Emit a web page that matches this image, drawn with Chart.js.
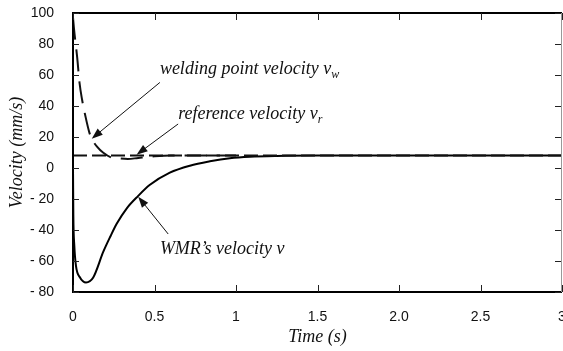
<!DOCTYPE html>
<html>
<head>
<meta charset="utf-8">
<script src="https://cdn.jsdelivr.net/npm/chart.js@4.4.1/dist/chart.umd.min.js"></script>
<style>
  html, body { margin: 0; padding: 0; background: #fff; }
</style>
</head>
<body>
<canvas id="velocityChart" width="563" height="351"></canvas>
<script>
// welding point velocity v_w (dashed)
const weldTime = [0, 0.006, 0.026, 0.04, 0.055, 0.075, 0.1, 0.116, 0.15, 0.184, 0.235, 0.28, 0.337, 0.4, 0.5, 0.6, 0.8, 1.0];
const weldVel  = [97, 90, 71, 55, 44.5, 34, 23, 18.7, 13.5, 10, 6.8, 6.2, 5.8, 6.5, 7.5, 8, 8, 8];

// WMR's velocity v (solid)
const wmrTime = [0, 0.002, 0.008, 0.018, 0.043, 0.08, 0.124, 0.186, 0.23, 0.268, 0.33, 0.4, 0.47, 0.594, 0.717, 0.84, 0.962, 1.085, 1.25, 1.5, 3];
const wmrVel  = [0, -30, -50, -63, -70.6, -73.8, -70.6, -54, -44, -36, -26, -18, -11, -3, 1.5, 4.3, 6.3, 7.3, 7.8, 8, 8];

// reference velocity v_r (dashed)
const refTime = [0, 3];
const refVel  = [8, 8];

const xTickLabels = ['0', '0.5', '1', '1.5', '2.0', '2.5', '3'];

// text notes with arrows, in data units
const notes = [
    {text: 'welding point velocity v', sub: 'w', tx: 0.533, ty: 60.6, from: [0.533, 55.2], to: [0.115, 18.9]},
    {text: 'reference velocity v', sub: 'r', tx: 0.645, ty: 31.6, from: [0.645, 28.4], to: [0.39, 8.6]},
    {text: 'WMR\u2019s velocity v', sub: '', tx: 0.533, ty: -55.5, from: [0.584, -42.6], to: [0.4, -18.5]}
];

const toXY = (xs, ys) => xs.map((x, i) => ({x: x, y: ys[i]}));

const framePlugin = {
    id: 'frame',
    afterDatasetsDraw(chart) {
        const {ctx, chartArea: a, scales} = chart;
        ctx.save();
        ctx.fillStyle = '#000';
        ctx.fillRect(a.left - 1, a.top - 1, 2, a.bottom - a.top + 2);
        ctx.fillRect(a.left - 1, a.bottom - 1, a.right - a.left + 1, 2);
        ctx.fillRect(a.left - 1, a.top - 1, a.right - a.left + 1, 2);
        ctx.fillStyle = '#999';
        ctx.fillRect(a.right - 1, a.top, 1, a.bottom - a.top);

        ctx.strokeStyle = '#222';
        ctx.lineWidth = 1;
        ctx.beginPath();
        scales.y.ticks.forEach(t => {
            const y = Math.round(scales.y.getPixelForValue(t.value)) + 0.5;
            ctx.moveTo(a.left, y); ctx.lineTo(a.left + 6, y);
            ctx.moveTo(a.right - 7, y); ctx.lineTo(a.right - 1, y);
        });
        scales.x.ticks.forEach(t => {
            const x = Math.round(scales.x.getPixelForValue(t.value)) + 0.5;
            ctx.moveTo(x, a.bottom); ctx.lineTo(x, a.bottom - 7);
            ctx.moveTo(x, a.top); ctx.lineTo(x, a.top + 7);
        });
        ctx.stroke();
        ctx.restore();
    }
};

const notesPlugin = {
    id: 'notes',
    afterDraw(chart) {
        const {ctx, scales} = chart;
        ctx.save();
        notes.forEach(n => {
            const px = scales.x.getPixelForValue(n.tx);
            const py = scales.y.getPixelForValue(n.ty);
            ctx.fillStyle = '#111';
            ctx.textBaseline = 'alphabetic';
            ctx.font = 'italic 18px "Liberation Serif", "Times New Roman", serif';
            ctx.fillText(n.text, px, py);
            if (n.sub) {
                const w = ctx.measureText(n.text).width;
                ctx.font = 'italic 12px "Liberation Serif", "Times New Roman", serif';
                ctx.fillText(n.sub, px + w, py + 4);
            }

            const x1 = scales.x.getPixelForValue(n.from[0]);
            const y1 = scales.y.getPixelForValue(n.from[1]);
            const x2 = scales.x.getPixelForValue(n.to[0]);
            const y2 = scales.y.getPixelForValue(n.to[1]);
            const ang = Math.atan2(y2 - y1, x2 - x1);
            const len = 11, half = 4;
            ctx.strokeStyle = '#111';
            ctx.lineWidth = 1;
            ctx.beginPath();
            ctx.moveTo(x1, y1);
            ctx.lineTo(x2 - Math.cos(ang) * len * 0.8, y2 - Math.sin(ang) * len * 0.8);
            ctx.stroke();
            ctx.beginPath();
            ctx.moveTo(x2, y2);
            ctx.lineTo(x2 - Math.cos(ang) * len - Math.sin(ang) * half, y2 - Math.sin(ang) * len + Math.cos(ang) * half);
            ctx.lineTo(x2 - Math.cos(ang) * len + Math.sin(ang) * half, y2 - Math.sin(ang) * len - Math.cos(ang) * half);
            ctx.closePath();
            ctx.fill();
        });
        ctx.restore();
    }
};

const tickFont = {family: '"Liberation Sans", Arial, sans-serif', size: 14};
const titleFont = {family: '"Liberation Serif", "Times New Roman", serif', size: 18, style: 'italic'};

new Chart(document.getElementById('velocityChart').getContext('2d'), {
    type: 'line',
    data: {
        datasets: [
            {
                label: 'reference velocity',
                data: toXY(refTime, refVel),
                borderColor: '#111',
                borderWidth: 2,
                borderDash: [14, 5],
                pointRadius: 0,
                fill: false
            },
            {
                label: 'welding point velocity',
                data: toXY(weldTime, weldVel),
                borderColor: '#111',
                borderWidth: 2,
                borderDash: [22, 10],
                pointRadius: 0,
                cubicInterpolationMode: 'monotone',
                fill: false
            },
            {
                label: "WMR's velocity",
                data: toXY(wmrTime, wmrVel),
                borderColor: '#000',
                borderWidth: 2,
                pointRadius: 0,
                cubicInterpolationMode: 'monotone',
                fill: false
            }
        ]
    },
    options: {
        responsive: false,
        animation: false,
        devicePixelRatio: 1,
        layout: {padding: {top: 13, right: 1, left: 0, bottom: 0}},
        plugins: {
            legend: {display: false},
            tooltip: {enabled: false}
        },
        scales: {
            x: {
                type: 'linear',
                min: 0,
                max: 3,
                afterFit: s => { s.height = 59; s.paddingLeft = 0; s.paddingRight = 0; },
                grid: {display: false},
                border: {display: false},
                ticks: {
                    stepSize: 0.5,
                    padding: 9,
                    color: '#111',
                    font: tickFont,
                    maxRotation: 0,
                    callback: (v, i) => xTickLabels[i]
                },
                title: {display: true, text: 'Time (s)', color: '#111', font: titleFont, padding: {top: 0, bottom: 3}}
            },
            y: {
                min: -80,
                max: 100,
                afterFit: s => { s.width = 73; s.paddingTop = 0; s.paddingBottom = 0; },
                grid: {display: false},
                border: {display: false},
                ticks: {
                    stepSize: 20,
                    padding: 11,
                    color: '#111',
                    font: tickFont,
                    callback: v => v < 0 ? '- ' + Math.abs(v) : String(v)
                },
                title: {display: true, text: 'Velocity (mm/s)', color: '#111', font: titleFont, padding: {top: 6, bottom: 0}}
            }
        }
    },
    plugins: [framePlugin, notesPlugin]
});
</script>
</body>
</html>
